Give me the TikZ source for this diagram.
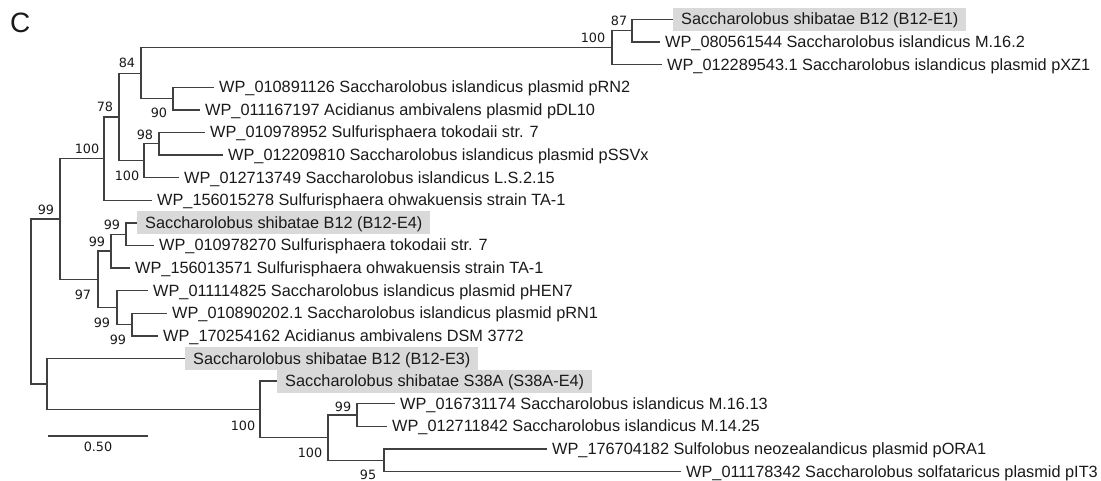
\documentclass[tikz,border=0pt]{standalone}
\usepackage{fontspec}
\setmainfont{Liberation Sans}
\newfontfamily\bootfont{DejaVu Sans}
\definecolor{boxgray}{HTML}{D9D9D9}
\definecolor{treeline}{HTML}{404040}
\definecolor{labeltext}{HTML}{1A1A1A}

\begin{document}
\begin{tikzpicture}[x=1pt,y=-1pt]
\tikzset{
  leafnode/.style={anchor=west,inner xsep=5pt,inner ysep=3pt,text height=14pt,text depth=3pt,text=labeltext,font=\fontsize{16.3}{18}\selectfont},
  shadednode/.style={leafnode,fill=boxgray,inner xsep=8pt},
  bootnode/.style={inner sep=0pt,text=labeltext,font=\bootfont\fontsize{12.8}{14}\selectfont},
  branch/.style={draw=treeline,line width=1.3pt,line join=miter}
}
\useasboundingbox (0,0) rectangle (1101,481);
\node[anchor=base west,inner sep=0pt,text=labeltext,font=\fontsize{28}{30}\selectfont] (n_panel) at (10,33) {C};
% leaves
\node[shadednode] (n_L01) at (673,19.5) {Saccharolobus shibatae B12 (B12-E1)};
\node[leafnode] (n_L02) at (660,42.1) {WP\_080561544 Saccharolobus islandicus M.16.2};
\node[leafnode] (n_L03) at (662,64.7) {WP\_012289543.1 Saccharolobus islandicus plasmid pXZ1};
\node[leafnode] (n_L04) at (214,87.3) {WP\_010891126 Saccharolobus islandicus plasmid pRN2};
\node[leafnode] (n_L05) at (200,109.9) {WP\_011167197 Acidianus ambivalens plasmid pDL10};
\node[leafnode] (n_L06) at (205,132.5) {WP\_010978952 Sulfurisphaera tokodaii str. 7};
\node[leafnode] (n_L07) at (223,155.1) {WP\_012209810 Saccharolobus islandicus plasmid pSSVx};
\node[leafnode] (n_L08) at (179,177.7) {WP\_012713749 Saccharolobus islandicus L.S.2.15};
\node[leafnode] (n_L09) at (152,200.3) {WP\_156015278 Sulfurisphaera ohwakuensis strain TA-1};
\node[shadednode] (n_L10) at (137,222.9) {Saccharolobus shibatae B12 (B12-E4)};
\node[leafnode] (n_L11) at (154,245.5) {WP\_010978270 Sulfurisphaera tokodaii str. 7};
\node[leafnode] (n_L12) at (130,268.1) {WP\_156013571 Sulfurisphaera ohwakuensis strain TA-1};
\node[leafnode] (n_L13) at (148,290.7) {WP\_011114825 Saccharolobus islandicus plasmid pHEN7};
\node[leafnode] (n_L14) at (167,313.3) {WP\_010890202.1 Saccharolobus islandicus plasmid pRN1};
\node[leafnode] (n_L15) at (158,335.9) {WP\_170254162 Acidianus ambivalens DSM 3772};
\node[shadednode] (n_L16) at (185,358.5) {Saccharolobus shibatae B12 (B12-E3)};
\node[shadednode] (n_L17) at (277,381.1) {Saccharolobus shibatae S38A (S38A-E4)};
\node[leafnode] (n_L18) at (395,403.7) {WP\_016731174 Saccharolobus islandicus M.16.13};
\node[leafnode] (n_L19) at (387,426.3) {WP\_012711842 Saccharolobus islandicus M.14.25};
\node[leafnode] (n_L20) at (547,448.9) {WP\_176704182 Sulfolobus neozealandicus plasmid pORA1};
\node[leafnode] (n_L21) at (681,471.5) {WP\_011178342 Saccharolobus solfataricus plasmid pIT3};
% internal nodes
\coordinate (n_I01) at (31,301.5);
\coordinate (n_I02) at (60,219.0);
\coordinate (n_I03) at (104,158.6);
\coordinate (n_I04) at (119,117.0);
\coordinate (n_I05) at (141,73.2);
\coordinate (n_I06) at (612,47.75);
\coordinate (n_I07) at (632,30.8);
\coordinate (n_I08) at (173,98.6);
\coordinate (n_I09) at (144,160.75);
\coordinate (n_I10) at (159,143.8);
\coordinate (n_I11) at (98,279.4);
\coordinate (n_I12) at (111,251.15);
\coordinate (n_I13) at (126,234.2);
\coordinate (n_I14) at (117,307.65);
\coordinate (n_I15) at (132,324.6);
\coordinate (n_I16) at (47,383.9);
\coordinate (n_I17) at (260,409.35);
\coordinate (n_I18) at (328,437.6);
\coordinate (n_I19) at (357,415.0);
\coordinate (n_I20) at (384,460.2);
% branches
\draw[branch] (n_I01) |- (n_I02);
\draw[branch] (n_I01) |- (n_I16);
\draw[branch] (n_I02) |- (n_I03);
\draw[branch] (n_I02) |- (n_I11);
\draw[branch] (n_I03) |- (n_I04);
\draw[branch] (n_I03) |- (n_L09.west);
\draw[branch] (n_I04) |- (n_I05);
\draw[branch] (n_I04) |- (n_I09);
\draw[branch] (n_I05) |- (n_I06);
\draw[branch] (n_I05) |- (n_I08);
\draw[branch] (n_I06) |- (n_I07);
\draw[branch] (n_I06) |- (n_L03.west);
\draw[branch] (n_I07) |- (n_L01.west);
\draw[branch] (n_I07) |- (n_L02.west);
\draw[branch] (n_I08) |- (n_L04.west);
\draw[branch] (n_I08) |- (n_L05.west);
\draw[branch] (n_I09) |- (n_I10);
\draw[branch] (n_I09) |- (n_L08.west);
\draw[branch] (n_I10) |- (n_L06.west);
\draw[branch] (n_I10) |- (n_L07.west);
\draw[branch] (n_I11) |- (n_I12);
\draw[branch] (n_I11) |- (n_I14);
\draw[branch] (n_I12) |- (n_I13);
\draw[branch] (n_I12) |- (n_L12.west);
\draw[branch] (n_I13) |- (n_L10.west);
\draw[branch] (n_I13) |- (n_L11.west);
\draw[branch] (n_I14) |- (n_L13.west);
\draw[branch] (n_I14) |- (n_I15);
\draw[branch] (n_I15) |- (n_L14.west);
\draw[branch] (n_I15) |- (n_L15.west);
\draw[branch] (n_I16) |- (n_L16.west);
\draw[branch] (n_I16) |- (n_I17);
\draw[branch] (n_I17) |- (n_L17.west);
\draw[branch] (n_I17) |- (n_I18);
\draw[branch] (n_I18) |- (n_I19);
\draw[branch] (n_I18) |- (n_I20);
\draw[branch] (n_I19) |- (n_L18.west);
\draw[branch] (n_I19) |- (n_L19.west);
\draw[branch] (n_I20) |- (n_L20.west);
\draw[branch] (n_I20) |- (n_L21.west);
% bootstrap values
\node[bootnode] (n_B07) at (619,21) {87};
\node[bootnode] (n_B06) at (593,38) {100};
\node[bootnode] (n_B05) at (127,63) {84};
\node[bootnode] (n_B08) at (159,113) {90};
\node[bootnode] (n_B04) at (105,107) {78};
\node[bootnode] (n_B10) at (145,135) {98};
\node[bootnode] (n_B09) at (127,176) {100};
\node[bootnode] (n_B03) at (87,149) {100};
\node[bootnode] (n_B02) at (46,210) {99};
\node[bootnode] (n_B13) at (112,225) {99};
\node[bootnode] (n_B12) at (97,242) {99};
\node[bootnode] (n_B11) at (83,295) {97};
\node[bootnode] (n_B14) at (102,323) {99};
\node[bootnode] (n_B15) at (118,340) {99};
\node[bootnode] (n_B17) at (243,426) {100};
\node[bootnode] (n_B19) at (343,407) {99};
\node[bootnode] (n_B18) at (310,453) {100};
\node[bootnode] (n_B20) at (368,475) {95};
% scale bar
\coordinate (n_barL) at (48,436);
\coordinate (n_barR) at (148,436);
\draw[branch] (n_barL) -- (n_barR);
\node[bootnode] (n_barlabel) at (98,447) {0.50};
\end{tikzpicture}
\end{document}
